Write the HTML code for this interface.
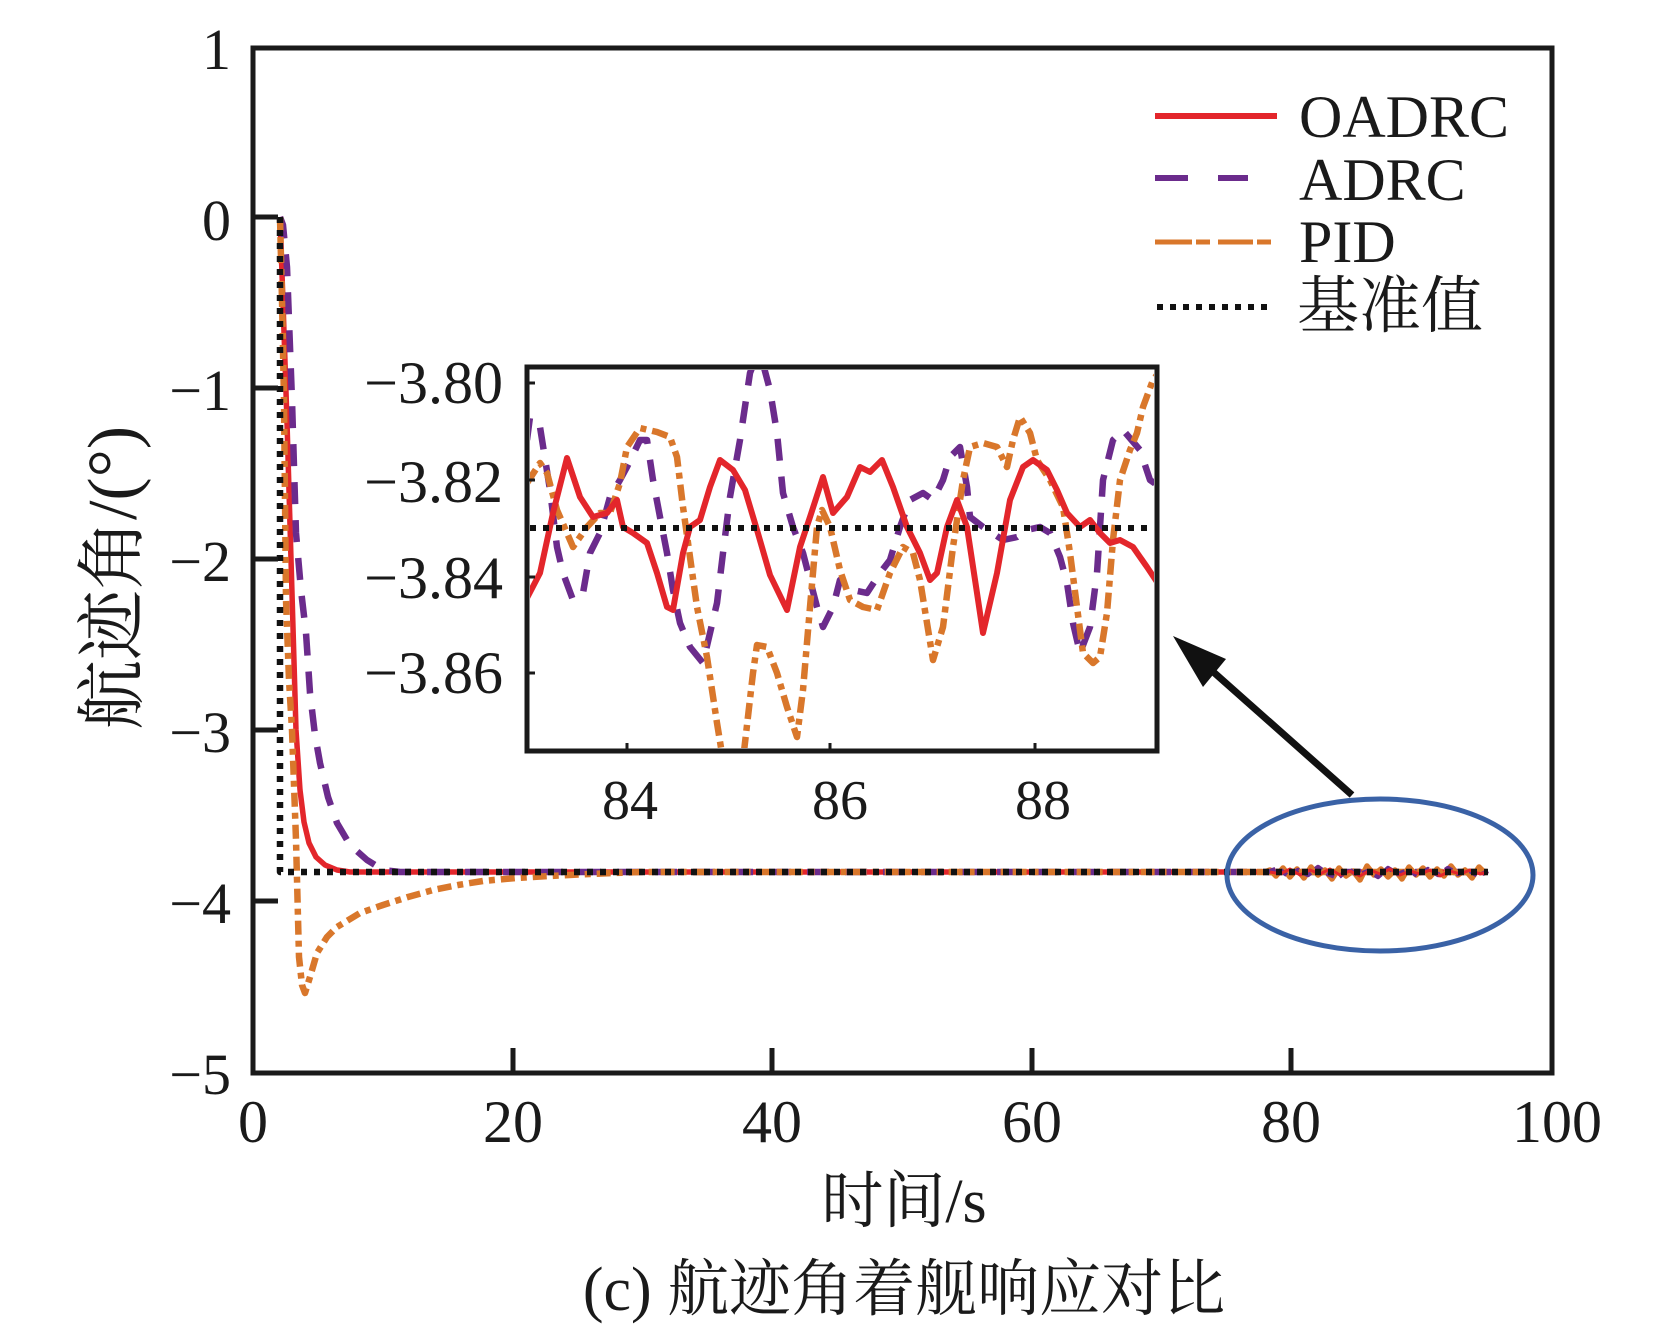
<!DOCTYPE html>
<html>
<head>
<meta charset="utf-8">
<style>
  html,body{margin:0;padding:0;background:#fff;}
  svg{display:block;}
  text{font-family:"Liberation Serif","Noto Serif CJK SC",serif;fill:#1a1a1a;}
</style>
</head>
<body>
<svg width="1654" height="1343" viewBox="0 0 1654 1343" xmlns="http://www.w3.org/2000/svg">
  <rect x="0" y="0" width="1654" height="1343" fill="#fff"/>
  <defs>
    <clipPath id="plotclip"><rect x="256" y="51" width="1293" height="1019"/></clipPath>
    <clipPath id="insetclip"><rect x="530" y="370" width="624" height="378"/></clipPath>
  </defs>

  <!-- main curves -->
  <g clip-path="url(#plotclip)" fill="none" stroke-linejoin="round">
    <path d="M280,217 L283,302 L287,422 L291,559 L296,730 L300,790 L304,822 L309,843 L316,857 L325,865 L337,870 L350,872 L1488,872" stroke="#e3262b" stroke-width="5.5"/>
    <path d="M280,217 L283,225 L287,267 L292,400 L296,533 L301,590 L306,633 L310,693 L315,735 L320,763 L328,797 L337,823 L350,845 L367,860 L383,870 L400,872 L1488,872" stroke="#6b2b8c" stroke-width="6.5" stroke-dasharray="22 16"/>
    <path d="M280,217 L282,300 L284,400 L286,600 L289,680 L292,730 L296,840 L299,957 L302,985 L305,993 L310,977 L317,953 L327,937 L337,927 L360,913 L383,905 L408,897 L433,890 L458,885 L483,881 L516,878 L550,876 L590,874 L640,872 L1488,872" stroke="#d9772b" stroke-width="6.5" stroke-dasharray="14 6 6 6"/>
    <path d="M1262,873 L1270,870 L1276,876 L1283,868 L1290,877 L1297,869 L1304,878 L1311,867 L1318,875 L1325,870 L1332,879 L1339,868 L1346,876 L1353,871 L1360,880 L1367,866 L1374,875 L1381,869 L1388,877 L1395,870 L1402,879 L1409,867 L1416,875 L1423,868 L1430,877 L1437,869 L1444,876 L1451,866 L1458,875 L1465,870 L1472,878 L1479,867 L1486,874" stroke="#d9772b" stroke-width="5.5"/>
    <path d="M1268,872 L1278,868 L1288,876 L1298,870 L1308,875 L1318,867 L1328,874 L1338,878 L1348,869 L1358,875 L1368,871 L1378,877 L1388,868 L1398,874 L1408,870 L1418,876 L1428,869 L1438,875 L1448,868 L1458,874 L1468,870 L1478,876 L1488,871" stroke="#6b2b8c" stroke-width="4.5" stroke-dasharray="8 6"/>
    <path d="M1270,872 L1280,874 L1290,869 L1300,875 L1310,870 L1320,874 L1330,869 L1340,875 L1350,871 L1360,876 L1370,870 L1380,874 L1390,869 L1400,875 L1410,871 L1420,874 L1430,870 L1440,876 L1450,871 L1460,874 L1470,870 L1480,874 L1488,872" stroke="#e3262b" stroke-width="3"/>
    <path d="M280,217 L280,872 L1488,872" stroke="#111" stroke-width="6.5" stroke-dasharray="6 7"/>
  </g>

  <ellipse cx="1380" cy="875" rx="153" ry="76" fill="none" stroke="#3a62a6" stroke-width="5"/>

  <line x1="1352" y1="795" x2="1210" y2="669" stroke="#111" stroke-width="7"/>
  <polygon points="1173,636 1226,659 1203,687" fill="#111"/>

  <rect x="253" y="48" width="1299" height="1025" fill="none" stroke="#1a1a1a" stroke-width="5"/>
  <g stroke="#1a1a1a" stroke-width="5">
    <line x1="253" y1="217" x2="278" y2="217"/>
    <line x1="253" y1="388" x2="278" y2="388"/>
    <line x1="253" y1="559" x2="278" y2="559"/>
    <line x1="253" y1="730" x2="278" y2="730"/>
    <line x1="253" y1="901" x2="278" y2="901"/>
    <line x1="513" y1="1073" x2="513" y2="1048"/>
    <line x1="772" y1="1073" x2="772" y2="1048"/>
    <line x1="1032" y1="1073" x2="1032" y2="1048"/>
    <line x1="1291" y1="1073" x2="1291" y2="1048"/>
  </g>

  <g font-size="58" text-anchor="end">
    <text x="231" y="69">1</text>
    <text x="231" y="240">0</text>
    <text x="231" y="410">−1</text>
    <text x="231" y="581">−2</text>
    <text x="231" y="752">−3</text>
    <text x="231" y="923">−4</text>
    <text x="231" y="1094">−5</text>
  </g>
  <g font-size="60" text-anchor="middle">
    <text x="253" y="1142">0</text>
    <text x="513" y="1142">20</text>
    <text x="772" y="1142">40</text>
    <text x="1032" y="1142">60</text>
    <text x="1291" y="1142">80</text>
    <text x="1557" y="1142">100</text>
  </g>

  <text x="904" y="1222" font-size="62" text-anchor="middle">时间/s</text>
  <text x="0" y="0" font-size="70" text-anchor="middle" transform="translate(136,578) rotate(-90)">航迹角/(°)</text>
  <text x="904" y="1310" font-size="62" text-anchor="middle">(c) 航迹角着舰响应对比</text>

  <line x1="1155" y1="116" x2="1277" y2="116" stroke="#e3262b" stroke-width="6"/>
  <line x1="1155" y1="178" x2="1188" y2="178" stroke="#6b2b8c" stroke-width="6"/>
  <line x1="1218" y1="178" x2="1248" y2="178" stroke="#6b2b8c" stroke-width="6"/>
  <g stroke="#d9772b" stroke-width="5">
    <line x1="1155" y1="242" x2="1192" y2="242"/>
    <line x1="1196" y1="242" x2="1210" y2="242"/>
    <line x1="1218" y1="242" x2="1253" y2="242"/>
    <line x1="1257" y1="242" x2="1271" y2="242"/>
  </g>
  <line x1="1157" y1="307" x2="1272" y2="307" stroke="#111" stroke-width="6" stroke-dasharray="6 7"/>
  <g font-size="60">
    <text x="1299" y="137">OADRC</text>
    <text x="1299" y="200">ADRC</text>
    <text x="1299" y="262">PID</text>
    <text x="1297" y="327" font-size="62">基准值</text>
  </g>

  <rect x="527" y="367" width="630" height="384" fill="#fff" stroke="none"/>
  <g clip-path="url(#insetclip)" fill="none" stroke-linejoin="round">
    <path d="M527,440 L530,417 L540,427 L550,490 L557,547 L563,573 L573,600 L583,593 L590,553 L600,533 L610,497 L620,480 L627,467 L640,440 L647,440 L653,480 L660,517 L667,553 L673,590 L680,623 L690,647 L703,663 L710,633 L717,603 L723,553 L730,497 L740,440 L750,373 L755,360 L762,360 L770,390 L777,433 L783,493 L793,527 L803,553 L817,607 L823,627 L833,607 L840,580 L853,590 L867,593 L880,573 L890,560 L900,527 L910,500 L923,493 L933,500 L943,480 L950,457 L960,447 L967,487 L970,517 L983,527 L1003,540 L1017,537 L1027,530 L1040,527 L1050,533 L1060,557 L1067,583 L1073,623 L1080,653 L1090,627 L1097,573 L1100,527 L1103,480 L1113,440 L1123,430 L1140,450 L1150,480 L1157,485" stroke="#6b2b8c" stroke-width="6.5" stroke-dasharray="22 16"/>
    <path d="M527,483 L540,463 L547,473 L557,510 L573,547 L587,527 L600,513 L610,513 L620,483 L627,447 L640,428 L657,432 L670,437 L677,457 L683,507 L690,557 L697,607 L707,657 L717,723 L723,760 L743,760 L753,673 L757,645 L767,647 L777,673 L787,707 L797,737 L803,690 L810,607 L817,527 L822,510 L830,527 L840,570 L850,600 L863,607 L877,610 L890,573 L903,547 L913,553 L920,580 L927,623 L933,660 L943,627 L953,547 L963,480 L970,447 L983,443 L997,447 L1007,467 L1013,440 L1020,417 L1030,433 L1037,460 L1050,480 L1063,507 L1070,553 L1077,607 L1083,653 L1093,663 L1100,657 L1107,613 L1113,540 L1120,480 L1130,450 L1137,433 L1143,407 L1153,380 L1157,375" stroke="#d9772b" stroke-width="6.5" stroke-dasharray="16 6 6 6"/>
    <path d="M527,598 L540,573 L553,513 L567,458 L580,497 L593,517 L607,513 L617,500 L623,527 L633,533 L647,543 L657,573 L667,607 L673,610 L683,553 L690,527 L700,520 L710,487 L720,460 L733,470 L745,490 L757,530 L770,575 L787,610 L800,547 L810,517 L823,477 L833,513 L847,497 L860,467 L870,472 L882,460 L893,487 L907,527 L920,553 L930,580 L937,573 L947,527 L957,500 L967,527 L977,593 L983,633 L997,573 L1010,500 L1023,467 L1033,460 L1047,470 L1057,490 L1067,513 L1080,527 L1090,520 L1100,533 L1110,543 L1120,540 L1133,547 L1147,567 L1157,582" stroke="#e3262b" stroke-width="6"/>
    <line x1="530" y1="528" x2="1154" y2="528" stroke="#111" stroke-width="6" stroke-dasharray="6 7"/>
  </g>
  <rect x="527" y="367" width="630" height="384" fill="none" stroke="#1a1a1a" stroke-width="5"/>
  <g stroke="#1a1a1a" stroke-width="3">
    <line x1="527" y1="383" x2="535" y2="383"/>
    <line x1="527" y1="480" x2="535" y2="480"/>
    <line x1="527" y1="577" x2="535" y2="577"/>
    <line x1="527" y1="673" x2="535" y2="673"/>
    <line x1="627" y1="751" x2="627" y2="743"/>
    <line x1="830" y1="751" x2="830" y2="743"/>
    <line x1="1035" y1="751" x2="1035" y2="743"/>
  </g>
  <g font-size="60" text-anchor="end">
    <text x="503" y="403">−3.80</text>
    <text x="503" y="502">−3.82</text>
    <text x="503" y="598">−3.84</text>
    <text x="503" y="693">−3.86</text>
  </g>
  <g font-size="56" text-anchor="middle">
    <text x="630" y="819">84</text>
    <text x="840" y="819">86</text>
    <text x="1043" y="819">88</text>
  </g>
</svg>
</body>
</html>
